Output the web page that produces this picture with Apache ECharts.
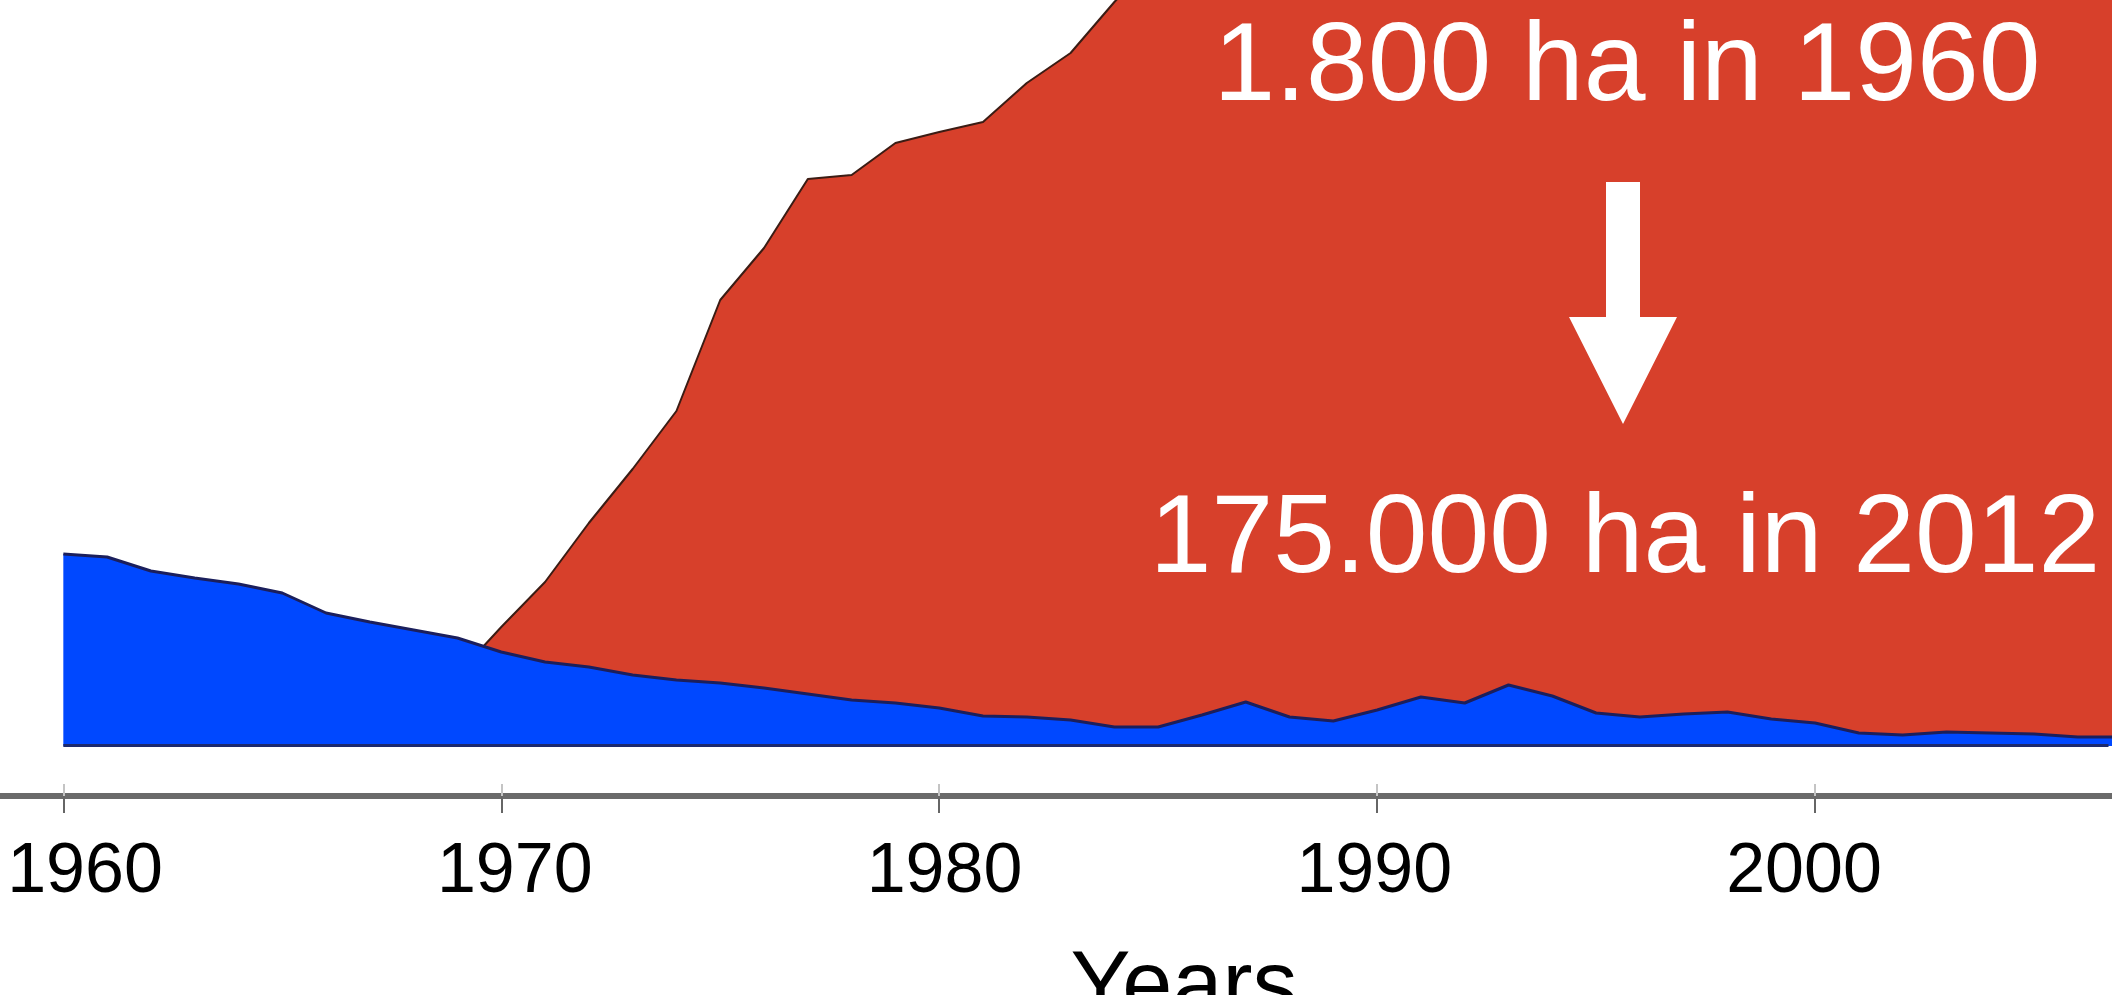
<!DOCTYPE html>
<html>
<head>
<meta charset="utf-8">
<style>
  html, body { margin: 0; padding: 0; background: #fff; }
  #chart { width: 2112px; height: 995px; }
</style>
<script src="https://cdn.jsdelivr.net/npm/echarts@6/dist/echarts.min.js"></script>
</head>
<body>
<div id="chart"></div>
<script>
// years of the blue series
var years = [];
for (var y = 1960; y <= 2007; y++) years.push(y);

// blue area (arbitrary height units)
var blueValues = [192, 189, 175, 168, 162, 153, 133, 124, 116, 108,
                  94, 84, 79, 71, 66, 63, 58, 52, 46, 43,
                  38, 30, 29, 26, 19, 19, 31, 44, 29, 25,
                  36, 49, 43, 61, 50, 33, 29, 32, 34, 27,
                  23, 13, 11, 14, 13, 12, 9, 9];

// red area top (total), starts where it leaves the blue line; past 1984 it runs off the top
var redYears = [1969.6, 1970, 1971, 1972, 1973, 1974, 1975, 1976, 1977, 1978,
                1979, 1980, 1981, 1982, 1983, 1984, 1985, 1986, 1987, 1988,
                1989, 1990, 1991, 1992, 1993, 1994, 1995, 1996, 1997, 1998,
                1999, 2000, 2001, 2002, 2003, 2004, 2005, 2006, 2007];
var redTop = [100, 119, 164, 223, 277, 335, 446, 498, 567, 571,
              603, 614, 624, 663, 693, 744, 790, 826, 858, 884,
              915, 951, 978, 1012, 1046, 1069, 1101, 1138, 1165, 1198,
              1230, 1262, 1290, 1325, 1352, 1388, 1420, 1446, 1480];

var tickYears = [1960, 1970, 1980, 1990, 2000];

var chart = echarts.init(document.getElementById('chart'));

function pairs(xs, vs) {
  var out = [];
  xs.forEach(function(x, i) { out.push([x, vs[i]]); });
  return out;
}

var font = '"Liberation Sans", Arial, sans-serif';

var option = {
  backgroundColor: '#fff',
  animation: false,
  grid: { left: 0, right: 0, top: 0, bottom: 249, containLabel: false, outerBoundsMode: 'none' },
  xAxis: [
    {
      type: 'value', min: 1958.554, max: 2006.78,
      position: 'bottom', offset: 50,
      name: 'Years', nameLocation: 'middle', nameGap: 148, nameMoveOverlap: false,
      nameTextStyle: { fontFamily: font, fontSize: 90, color: '#000', padding: [0, 0, 0, 256] },
      axisLine: { show: true, onZero: false, lineStyle: { color: '#6a6a6a', width: 6 } },
      axisTick: { show: true, length: 17, customValues: tickYears, lineStyle: { color: '#666', width: 2 } },
      axisLabel: { show: false },
      splitLine: { show: false }
    },
    {
      // labels sit slightly off the ticks in the source image
      type: 'value', min: 1958.022, max: 2007.167,
      position: 'bottom', offset: 50,
      axisLine: { show: false, onZero: false },
      axisTick: { show: false },
      axisLabel: {
        show: true, margin: 42, customValues: tickYears,
        formatter: function(v) { return String(Math.round(v)); },
        fontFamily: font, fontSize: 70, color: '#000'
      },
      splitLine: { show: false }
    },
    {
      type: 'value', min: 1958.554, max: 2006.78,
      position: 'bottom', offset: 50,
      axisLine: { show: false, onZero: false },
      axisTick: { show: true, inside: true, length: 12, customValues: tickYears,
                  lineStyle: { color: '#c4c4c4', width: 2 } },
      axisLabel: { show: false },
      splitLine: { show: false }
    }
  ],
  yAxis: { type: 'value', min: 0, max: 746, show: false, splitLine: { show: false } },
  series: [
    {
      name: 'red',
      type: 'line',
      xAxisIndex: 0,
      data: pairs(redYears, redTop),
      symbol: 'none',
      lineStyle: { color: '#3b1c14', width: 2 },
      areaStyle: { color: '#d7402b', opacity: 1 }
    },
    {
      name: 'blue',
      type: 'line',
      xAxisIndex: 0,
      data: pairs(years, blueValues),
      symbol: 'none',
      lineStyle: { color: '#1b1f5c', width: 3 },
      areaStyle: { color: '#0048ff', opacity: 1 },
      markLine: {
        silent: true,
        symbol: 'none',
        label: { show: false },
        lineStyle: { color: '#1d2a6e', width: 3, type: 'solid' },
        data: [[{ coord: [1960, 1] }, { coord: [2006.7, 1] }]]
      }
    }
  ],
  graphic: [
    {
      type: 'text', z: 100,
      style: { text: '1.800 ha in 1960', x: 1627, y: 69, fill: '#fff',
               font: '111px ' + font, align: 'center', verticalAlign: 'middle' }
    },
    {
      type: 'polygon', z: 100,
      shape: { points: [[1606, 182], [1640, 182], [1640, 317], [1677, 317],
                        [1623, 424], [1569, 317], [1606, 317]] },
      style: { fill: '#fff' }
    },
    {
      type: 'text', z: 100,
      style: { text: '175.000 ha in 2012', x: 1625, y: 541, fill: '#fff',
               font: '111px ' + font, align: 'center', verticalAlign: 'middle' }
    }
  ]
};

chart.setOption(option);
</script>
</body>
</html>
